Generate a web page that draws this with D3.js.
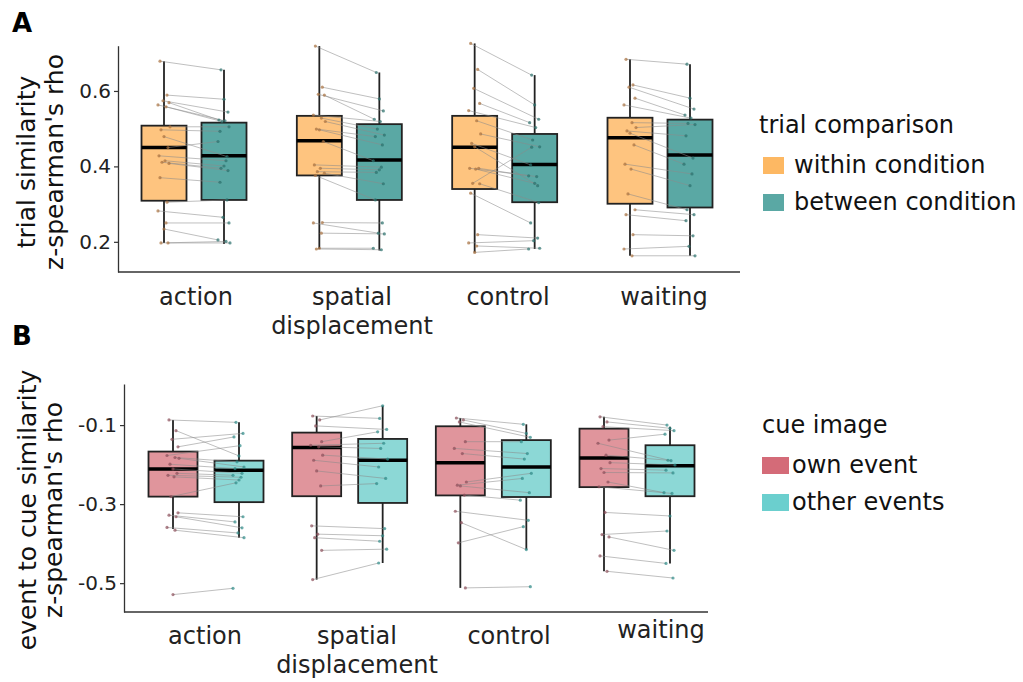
<!DOCTYPE html>
<html>
<head>
<meta charset="utf-8">
<script src="https://cdn.jsdelivr.net/npm/d3@7"></script>
<style>
    body { margin: 0; background: #fff; }
    svg { font-family: "DejaVu Sans", Verdana, sans-serif; }
</style>
</head>
<body>
<svg id="chart" width="1023" height="682"></svg>
<script>
// categories on the x axis
const categories = ["action", "spatial displacement", "control", "waiting"];
const categoryLines = [["action"], ["spatial", "displacement"], ["control"], ["waiting"]];

// box stats per category: [lower whisker, q1, median, q3, upper whisker]
const withinBox = [
    [0.197, 0.309, 0.450, 0.508, 0.679],
    [0.181, 0.376, 0.468, 0.534, 0.719],
    [0.172, 0.340, 0.451, 0.534, 0.726],
    [0.163, 0.301, 0.476, 0.529, 0.684]
];
const betweenBox = [
    [0.194, 0.311, 0.428, 0.516, 0.656],
    [0.177, 0.311, 0.417, 0.512, 0.649],
    [0.181, 0.305, 0.405, 0.486, 0.642],
    [0.163, 0.291, 0.430, 0.524, 0.671]
];
const ownBox = [
    [-0.363, -0.281, -0.211, -0.167, -0.087],
    [-0.491, -0.280, -0.157, -0.119, -0.077],
    [-0.512, -0.278, -0.195, -0.103, -0.082],
    [-0.470, -0.257, -0.183, -0.109, -0.079]
];
const otherBox = [
    [-0.385, -0.295, -0.214, -0.190, -0.093],
    [-0.449, -0.297, -0.189, -0.135, -0.051],
    [-0.415, -0.282, -0.206, -0.138, -0.098],
    [-0.450, -0.280, -0.203, -0.151, -0.104]
];

// paired participant values (index i in both arrays = same participant)
const withinPts = [
    [0.679, 0.589, 0.574, 0.569, 0.563, 0.558, 0.505, 0.497, 0.479, 0.450, 0.428, 0.415, 0.411, 0.408, 0.370, 0.305, 0.282, 0.250, 0.234, 0.197, 0.197],
    [0.719, 0.610, 0.591, 0.589, 0.536, 0.528, 0.519, 0.499, 0.497, 0.466, 0.404, 0.395, 0.386, 0.382, 0.376, 0.251, 0.250, 0.223, 0.183, 0.181],
    [0.726, 0.657, 0.607, 0.567, 0.548, 0.521, 0.486, 0.461, 0.452, 0.395, 0.395, 0.393, 0.355, 0.354, 0.329, 0.219, 0.197, 0.189, 0.172],
    [0.684, 0.616, 0.610, 0.581, 0.563, 0.516, 0.503, 0.494, 0.488, 0.457, 0.406, 0.393, 0.327, 0.285, 0.272, 0.219, 0.181, 0.163]
];
const betweenPts = [
    [0.656, 0.578, 0.544, 0.523, 0.521, 0.519, 0.505, 0.493, 0.426, 0.466, 0.415, 0.401, 0.395, 0.389, 0.358, 0.311, 0.265, 0.250, 0.205, 0.201, 0.197],
    [0.649, 0.579, 0.547, 0.525, 0.519, 0.499, 0.483, 0.479, 0.457, 0.415, 0.398, 0.391, 0.384, 0.354, 0.311, 0.250, 0.223, 0.221, 0.183, 0.179],
    [0.642, 0.563, 0.525, 0.516, 0.503, 0.470, 0.452, 0.404, 0.349, 0.375, 0.373, 0.355, 0.451, 0.304, 0.250, 0.210, 0.203, 0.183, 0.181],
    [0.671, 0.581, 0.552, 0.536, 0.528, 0.514, 0.511, 0.481, 0.422, 0.406, 0.380, 0.349, 0.285, 0.272, 0.256, 0.216, 0.188, 0.163]
];
const ownPts = [
    [-0.087, -0.114, -0.136, -0.155, -0.177, -0.182, -0.184, -0.199, -0.211, -0.222, -0.227, -0.231, -0.281, -0.322, -0.328, -0.332, -0.359, -0.366, -0.529],
    [-0.077, -0.087, -0.102, -0.142, -0.151, -0.155, -0.176, -0.189, -0.216, -0.254, -0.355, -0.376, -0.385, -0.417, -0.491],
    [-0.082, -0.087, -0.092, -0.142, -0.159, -0.172, -0.244, -0.252, -0.254, -0.277, -0.318, -0.347, -0.398, -0.512],
    [-0.079, -0.092, -0.104, -0.138, -0.146, -0.176, -0.195, -0.210, -0.220, -0.244, -0.256, -0.321, -0.377, -0.383, -0.431, -0.470]
];
const otherPts = [
    [-0.093, -0.178, -0.121, -0.130, -0.152, -0.193, -0.206, -0.210, -0.222, -0.227, -0.232, -0.239, -0.246, -0.332, -0.345, -0.360, -0.373, -0.385, -0.513],
    [-0.083, -0.051, -0.111, -0.117, -0.146, -0.159, -0.186, -0.206, -0.235, -0.248, -0.362, -0.380, -0.394, -0.414, -0.449],
    [-0.098, -0.121, -0.131, -0.142, -0.172, -0.186, -0.222, -0.235, -0.271, -0.290, -0.341, -0.415, -0.357, -0.509],
    [-0.100, -0.108, -0.114, -0.123, -0.190, -0.189, -0.201, -0.214, -0.221, -0.271, -0.273, -0.330, -0.368, -0.417, -0.450, -0.487]
];

const ticksA = [0.2, 0.4, 0.6];
const ticksB = [-0.5, -0.3, -0.1];
const legendA = ["within condition", "between condition"];
const legendB = ["own event", "other events"];

// small fixed horizontal jitter (px) for the participant dots
const jitter = [-4, 3, -1, 5, -6, 2, 6, -3, 0, 4, -5, 1, -2, 5, -4, 3, -6, 2, 0, -3, 4];

const svg = d3.select("#chart");

function drawPanel(p) {
    const g = svg.append("g");

    const y = d3.scaleLinear().domain(p.yDomain).range(p.yRange);
    const x = d3.scalePoint().domain(categories).range(p.xRange);
    const xLabel = d3.scalePoint().domain(categories).range(p.labelRange);
    const dodge = d3.scalePoint().domain([0, 1]).range([-p.dodge, p.dodge]);

    // y axis
    const yAxis = d3.axisLeft(y)
        .tickValues(p.ticks)
        .tickSize(4)
        .tickSizeOuter(0)
        .tickPadding(3)
        .tickFormat(d => d.toFixed(1));
    const yg = g.append("g")
        .attr("transform", `translate(${p.axisX}, 0)`)
        .call(yAxis);
    yg.select(".domain").attr("stroke", "#333").attr("stroke-width", 1.3);
    yg.selectAll(".tick line").attr("stroke", "#333").attr("stroke-width", 1.2);
    yg.selectAll(".tick text")
        .attr("font-size", 20)
        .attr("fill", "#222")
        .attr("font-family", "DejaVu Sans, sans-serif");

    // x axis line
    g.append("line")
        .attr("x1", p.axisX).attr("x2", p.axisRight)
        .attr("y1", y.range()[0]).attr("y2", y.range()[0])
        .attr("stroke", "#333").attr("stroke-width", 1.3);

    // category labels
    categories.forEach((c, ci) => {
        const t = g.append("text")
            .attr("text-anchor", "middle")
            .attr("font-size", 24)
            .attr("fill", "#222");
        categoryLines[ci].forEach((line, li) => {
            t.append("tspan")
                .attr("x", xLabel(c))
                .attr("y", p.labelY + li * 29 + (p.labelShift[ci] || 0))
                .text(line);
        });
    });

    // boxes and whiskers
    const series = [p.boxes[0], p.boxes[1]];
    categories.forEach((c, ci) => {
        series.forEach((box, si) => {
            const [lo, q1, med, q3, hi] = box[ci];
            const cx = x(c) + dodge(si);
            g.append("line")
                .attr("x1", cx).attr("x2", cx)
                .attr("y1", y(lo)).attr("y2", y(q1))
                .attr("stroke", "#222").attr("stroke-width", 1.8);
            g.append("line")
                .attr("x1", cx).attr("x2", cx)
                .attr("y1", y(q3)).attr("y2", y(hi))
                .attr("stroke", "#222").attr("stroke-width", 1.8);
            g.append("rect")
                .attr("x", cx - p.boxWidth / 2)
                .attr("y", y(q3))
                .attr("width", p.boxWidth)
                .attr("height", y(q1) - y(q3))
                .attr("fill", p.boxFill[si])
                .attr("stroke", "#222")
                .attr("stroke-width", 1.8);
            g.append("line")
                .attr("x1", cx - p.boxWidth / 2).attr("x2", cx + p.boxWidth / 2)
                .attr("y1", y(med)).attr("y2", y(med))
                .attr("stroke", "#000").attr("stroke-width", 3.5);
        });
    });

    // paired lines and dots
    categories.forEach((c, ci) => {
        const a = p.points[0][ci];
        const b = p.points[1][ci];
        const n = Math.min(a.length, b.length);
        const pairs = d3.range(n).map(i => ({
            x0: x(c) + dodge(0) + jitter[i % jitter.length],
            y0: y(a[i]),
            x1: x(c) + dodge(1) + jitter[(i + 7) % jitter.length],
            y1: y(b[i])
        }));

        g.selectAll(null)
            .data(pairs)
            .enter()
            .append("line")
            .attr("x1", d => d.x0).attr("y1", d => d.y0)
            .attr("x2", d => d.x1).attr("y2", d => d.y1)
            .attr("stroke", "#8a8a8a")
            .attr("stroke-opacity", 0.55)
            .attr("stroke-width", 1);

        g.selectAll(null)
            .data(pairs)
            .enter()
            .append("circle")
            .attr("cx", d => d.x0).attr("cy", d => d.y0)
            .attr("r", 1.6)
            .attr("fill", p.dotFill[0])
            .attr("fill-opacity", 0.7);

        g.selectAll(null)
            .data(pairs)
            .enter()
            .append("circle")
            .attr("cx", d => d.x1).attr("cy", d => d.y1)
            .attr("r", 1.6)
            .attr("fill", p.dotFill[1])
            .attr("fill-opacity", 0.7);
    });

    // axis title (two lines, rotated)
    p.yTitle.forEach((line, li) => {
        g.append("text")
            .attr("transform", `translate(${p.yTitleX[li]}, ${p.yTitleY}) rotate(-90)`)
            .attr("text-anchor", "middle")
            .attr("font-size", 25)
            .attr("fill", "#111")
            .text(line);
    });

    // panel letter
    g.append("text")
        .attr("x", 12)
        .attr("y", p.letterY)
        .attr("font-size", 26)
        .attr("font-weight", "bold")
        .attr("fill", "#000")
        .text(p.letter);

    // legend
    const lg = g.append("g");
    lg.append("text")
        .attr("x", p.legend.x)
        .attr("y", p.legend.titleY)
        .attr("font-size", 24)
        .attr("fill", "#111")
        .text(p.legend.title);
    p.legend.labels.forEach((lab, i) => {
        lg.append("rect")
            .attr("x", p.legend.keyX)
            .attr("y", p.legend.keyY + i * 37)
            .attr("width", p.legend.keyW)
            .attr("height", 17)
            .attr("fill", p.legend.fill[i]);
        lg.append("text")
            .attr("x", p.legend.textX)
            .attr("y", p.legend.keyY + i * 37 + 16)
            .attr("font-size", 24)
            .attr("fill", "#111")
            .text(lab);
    });
}

drawPanel({
    letter: "A",
    letterY: 32,
    yDomain: [0.12, 0.72],
    yRange: [272, 45.7],
    ticks: ticksA,
    axisX: 118,
    axisRight: 740,
    xRange: [194, 660],
    labelRange: [196, 664],
    labelY: 305,
    labelShift: [],
    dodge: 30,
    boxWidth: 45,
    boxes: [withinBox, betweenBox],
    points: [withinPts, betweenPts],
    boxFill: ["#fec47f", "#5aa8a4"],
    dotFill: ["#a8703e", "#2a6f6b"],
    yTitle: ["trial similarity", "z-spearman's rho"],
    yTitleX: [35, 63],
    yTitleY: 162,
    legend: {
        title: "trial comparison",
        labels: legendA,
        fill: ["#fdb863", "#5aa8a4"],
        x: 759, titleY: 133,
        keyX: 763, keyY: 157, keyW: 21,
        textX: 794
    }
});

drawPanel({
    letter: "B",
    letterY: 345,
    yDomain: [-0.573, 0.004],
    yRange: [612, 384],
    ticks: ticksB,
    axisX: 124,
    axisRight: 708,
    xRange: [206, 637],
    labelRange: [205, 661],
    labelY: 644,
    labelShift: [0, 0, 0, -6],
    dodge: 33,
    boxWidth: 49,
    boxes: [ownBox, otherBox],
    points: [ownPts, otherPts],
    boxFill: ["#e0959c", "#8cd8d6"],
    dotFill: ["#8c4f5a", "#2e8a87"],
    yTitle: ["event to cue similarity", "z-spearman's rho"],
    yTitleX: [36, 62],
    yTitleY: 510,
    legend: {
        title: "cue image",
        labels: legendB,
        fill: ["#d46b78", "#6bcfce"],
        x: 762, titleY: 433,
        keyX: 762, keyY: 457, keyW: 27,
        textX: 792
    }
});
</script>
</body>
</html>
